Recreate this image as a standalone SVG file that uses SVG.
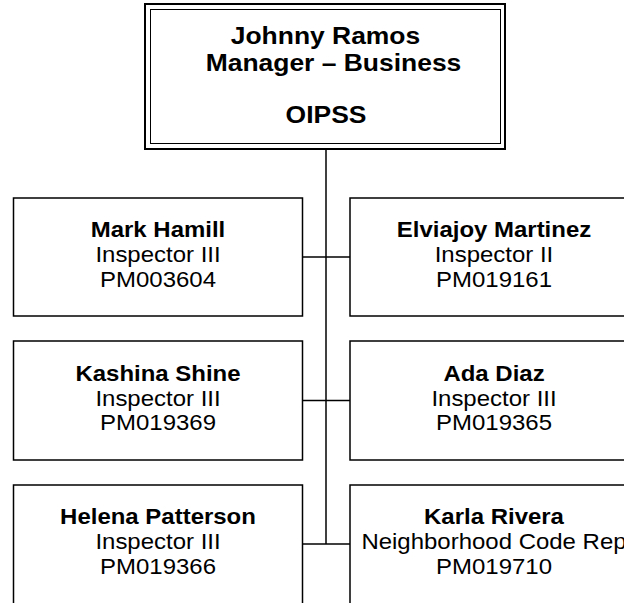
<svg xmlns="http://www.w3.org/2000/svg" width="624" height="603" viewBox="0 0 624 603">
  <style>
    .box { fill: #ffffff; stroke: #000000; stroke-width: 1.5; }
    .outer { fill: #ffffff; stroke: #000000; stroke-width: 2; }
    .inner { fill: none; stroke: #000000; stroke-width: 1; }
    .conn { stroke: #000000; stroke-width: 1.5; fill: none; }
    text { font-family: "Liberation Sans", Arial, sans-serif; fill: #000000; text-anchor: middle; }
    .t { font-size: 23px; font-weight: bold; }
    .n { font-size: 22px; font-weight: bold; }
    .r { font-size: 22px; }
  </style>
  <rect width="624" height="603" fill="#ffffff"/>

  <g id="connectors">
    <line class="conn" x1="326" y1="149" x2="326" y2="544"/>
    <line class="conn" x1="302" y1="257" x2="350" y2="257"/>
    <line class="conn" x1="302" y1="400.5" x2="350" y2="400.5"/>
    <line class="conn" x1="302" y1="544" x2="350" y2="544"/>
  </g>

  <g id="node-johnny-ramos">
    <rect class="outer" x="145" y="4" width="360" height="145"/>
    <rect class="inner" x="150.5" y="9.5" width="350" height="134"/>
    <g transform="translate(325.5,0) scale(1.15,1)"><text class="t" x="0" y="44.3">Johnny Ramos</text></g>
    <g transform="translate(333.5,0) scale(1.15,1)"><text class="t" x="0" y="70.7">Manager – Business</text></g>
    <g transform="translate(326,0) scale(1.15,1)"><text class="t" x="0" y="123.3">OIPSS</text></g>
  </g>

  <g id="node-mark-hamill">
    <rect class="box" x="13.5" y="198" width="289" height="118"/>
    <g transform="translate(158,0) scale(1.09,1)">
      <text class="n" x="0" y="237.5">Mark Hamill</text>
      <text class="r" x="0" y="262.5">Inspector III</text>
      <text class="r" x="0" y="287">PM003604</text>
    </g>
  </g>

  <g id="node-elviajoy-martinez">
    <rect class="box" x="350" y="198" width="289" height="118"/>
    <g transform="translate(494,0) scale(1.09,1)">
      <text class="n" x="0" y="237.5">Elviajoy Martinez</text>
      <text class="r" x="0" y="262.5">Inspector II</text>
      <text class="r" x="0" y="287">PM019161</text>
    </g>
  </g>

  <g id="node-kashina-shine">
    <rect class="box" x="13.5" y="341" width="289" height="119"/>
    <g transform="translate(158,0) scale(1.09,1)">
      <text class="n" x="0" y="381">Kashina Shine</text>
      <text class="r" x="0" y="406">Inspector III</text>
      <text class="r" x="0" y="430.5">PM019369</text>
    </g>
  </g>

  <g id="node-ada-diaz">
    <rect class="box" x="350" y="341" width="289" height="119"/>
    <g transform="translate(494,0) scale(1.09,1)">
      <text class="n" x="0" y="381">Ada Diaz</text>
      <text class="r" x="0" y="406">Inspector III</text>
      <text class="r" x="0" y="430.5">PM019365</text>
    </g>
  </g>

  <g id="node-helena-patterson">
    <rect class="box" x="13.5" y="485" width="289" height="120"/>
    <g transform="translate(158,0) scale(1.09,1)">
      <text class="n" x="0" y="524.5">Helena Patterson</text>
      <text class="r" x="0" y="549.5">Inspector III</text>
      <text class="r" x="0" y="574">PM019366</text>
    </g>
  </g>

  <g id="node-karla-rivera">
    <rect class="box" x="350" y="485" width="289" height="120"/>
    <g transform="translate(494,0) scale(1.09,1)">
      <text class="n" x="0" y="524.5">Karla Rivera</text>
      <text class="r" x="0" y="549.5">Neighborhood Code Rep</text>
      <text class="r" x="0" y="574">PM019710</text>
    </g>
  </g>
</svg>
